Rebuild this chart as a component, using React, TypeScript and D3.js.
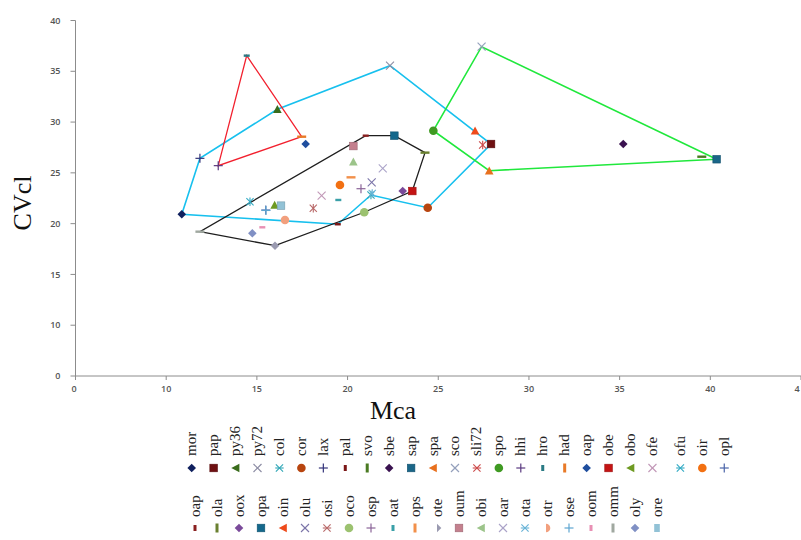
import React from "react";
import * as d3 from "d3";

// ---- legend rows (species ids; "oap2" is the second "oap" entry) ----
const ROW1 = ["mor","pap","py36","py72","col","cor","lax","pal","svo","sbe","sap","spa","sco","sli72","spo","hhi","hro","had","oap","obe","obo","ofe","ofu","oir","opl"];
const ROW2 = ["oap2","ola","oox","opa","oin","olu","osi","oco","osp","oat","ops","ote","oum","obi","oar","ota","otr","ose","oom","omm","oly","ore"];

const LABEL: Record<string, string> = { oap2: "oap" };

// ---- data values: Mca (x) and CVcl (y) ----
const MCA: Record<string, number> = {
  mor: 10.86, pap: 27.91, py36: 16.13, py72: 22.34, col: 21.29, cor: 24.42, lax: 11.86, pal: 19.46,
  svo: 39.53, sbe: 35.2, sap: 40.35, spa: 27.81, sco: 27.39, sli72: 27.45, spo: 24.73,
  hhi: 12.87, hro: 14.44, had: 17.47,
  oap: 17.69, obe: 23.57, obo: 15.98, ofe: 18.57, ofu: 14.62, oir: 19.58, opl: 15.49,
  oap2: 21.0, ola: 24.27, oox: 23.04, opa: 22.58, oin: 27.03, olu: 21.33, osi: 18.11, oco: 20.92,
  osp: 20.74, oat: 19.49, ops: 20.19, ote: 16.0, oum: 20.32, obi: 20.32, oar: 21.94, ota: 21.36,
  otr: 16.55, ose: 15.5, oom: 15.3, omm: 11.86, oly: 14.75, ore: 16.33,
};
const CVCL: Record<string, number> = {
  mor: 20.92, pap: 27.84, py36: 31.26, py72: 35.55, col: 22.82, cor: 21.57, lax: 26.43, pal: 19.94,
  svo: 26.59, sbe: 27.84, sap: 26.34, spa: 25.21, sco: 37.42, sli72: 27.74, spo: 29.15,
  hhi: 25.71, hro: 36.54, had: 28.56,
  oap: 27.84, obe: 23.21, obo: 21.84, ofe: 22.75, ofu: 22.16, oir: 23.8, opl: 21.34,
  oap2: 28.66, ola: 26.99, oox: 23.21, opa: 28.66, oin: 29.15, olu: 24.07, osi: 21.51, oco: 21.12,
  osp: 23.44, oat: 22.33, ops: 24.56, ote: 17.83, oum: 27.64, obi: 26.1, oar: 25.45, ota: 22.98,
  otr: 20.36, ose: 21.3, oom: 19.64, omm: 19.21, oly: 19.05, ore: 21.77,
};

// ---- marker shapes and colours ----
const SHAPE: Record<string, string> = {
  mor: "diamond", pap: "square", py36: "triangle", py72: "x", col: "star", cor: "circle", lax: "plus", pal: "short",
  svo: "long", sbe: "diamond", sap: "square", spa: "triangle", sco: "x", sli72: "star", spo: "circle",
  hhi: "plus", hro: "short", had: "long", oap: "diamond", obe: "square", obo: "triangle", ofe: "x",
  ofu: "star", oir: "circle", opl: "plus", oap2: "short", ola: "long", oox: "diamond", opa: "square",
  oin: "triangle", olu: "x", osi: "star", oco: "circle", osp: "plus", oat: "short", ops: "long",
  ote: "diamond", oum: "square", obi: "triangle", oar: "x", ota: "star", otr: "circle", ose: "plus",
  oom: "short", omm: "long", oly: "diamond", ore: "square",
};
const COLOR: Record<string, string> = {
  mor: "#10205e", pap: "#6e1012", py36: "#3a6c1c", py72: "#8a8aa2", col: "#2fa6b6", cor: "#b8450f",
  lax: "#34347a", pal: "#7a1616", svo: "#4a7a22", sbe: "#3a1250", sap: "#1a6688", spa: "#e8701e",
  sco: "#94a0bc", sli72: "#cc4a4a", spo: "#3f9a22", hhi: "#5a3a80", hro: "#2a7a84", had: "#e87a28",
  oap: "#1f4e9e", obe: "#c41414", obo: "#6e9a22", ofe: "#c096b6", ofu: "#30aac4", oir: "#f27012",
  opl: "#4a64a8", oap2: "#8a2020", ola: "#6a8030", oox: "#7a4a9a", opa: "#14688c", oin: "#ee4a1a",
  olu: "#7a74a8", osi: "#b86868", oco: "#9cc270", osp: "#8a6498", oat: "#3aa0a8", ops: "#f2904a",
  ote: "#9a9ab0", oum: "#c4808e", obi: "#9cc48a", oar: "#aaa2c8", ota: "#66b2d6", otr: "#f2a07e",
  ose: "#5ea6d0", oom: "#e890b4", omm: "#a0a8a0", oly: "#8090c4", ore: "#92c2d6",
};

// ---- groups joined by outlines ----
const CYAN_GROUP = ["mor","lax","py36","py72","pap","cor","col","pal"];
const RED_GROUP = ["hro","had","hhi"];
const GREEN_GROUP = ["spo","sco","sap","spa"];
const BLACK_GROUP = ["omm","ote","oco","obe","ola","opa","oap2"];

// ---- axes ----
const X_TICKS = [5, 10, 15, 20, 25, 30, 35, 40, 45];
const X_TICK_LABELS = ["0", "10", "15", "20", "25", "30", "35", "40", "4"];
const Y_TICKS = [5, 10, 15, 20, 25, 30, 35, 40];
const Y_TICK_LABELS = ["0", "10", "15", "20", "25", "30", "35", "40"];

function Marker({ id, legend }: { id: string; legend?: boolean }) {
  const c = COLOR[id];
  const s = SHAPE[id];
  const r = 4.3;
  switch (s) {
    case "diamond":
      if (legend && id === "ote") return <path d={`M0,${-r} L${r},0 L0,${r} Z`} fill={c} />;
      return <path d={`M0,${-r} L${r},0 L0,${r} L${-r},0 Z`} fill={c} />;
    case "square":
      if (legend && id === "ore") return <rect x={-2.8} y={-4} width={5.6} height={8} fill={c} />;
      return <rect x={-3.8} y={-3.8} width={7.6} height={7.6} fill={c} stroke={d3.color(c)!.darker(0.6).toString()} strokeWidth={0.6} />;
    case "triangle":
      return legend
        ? <path d={`M${-r},0 L${r - 0.5},${-r} L${r - 0.5},${r} Z`} fill={c} />
        : <path d={`M0,${-r} L${r},${r - 0.6} L${-r},${r - 0.6} Z`} fill={c} />;
    case "x":
      return (
        <g stroke={c} strokeWidth={1.1}>
          <line x1={-4} y1={-4} x2={4} y2={4} />
          <line x1={-4} y1={4} x2={4} y2={-4} />
        </g>
      );
    case "star":
      return (
        <g stroke={c} strokeWidth={1.1}>
          <line x1={-3.6} y1={-3.6} x2={3.6} y2={3.6} />
          <line x1={-3.6} y1={3.6} x2={3.6} y2={-3.6} />
          {legend ? <line x1={-4.2} y1={0} x2={4.2} y2={0} /> : <line x1={0} y1={-4.2} x2={0} y2={4.2} />}
        </g>
      );
    case "circle":
      if (legend && id === "otr") return <path d={`M-1,${-r} A${r},${r} 0 0 1 -1,${r} Z`} fill={c} />;
      return <circle r={r} fill={c} />;
    case "plus":
      return (
        <g stroke={c} strokeWidth={1.2}>
          <line x1={-4.5} y1={0} x2={4.5} y2={0} />
          <line x1={0} y1={-4.5} x2={0} y2={4.5} />
        </g>
      );
    case "short":
      return legend
        ? <rect x={-1.5} y={-3} width={3} height={6} fill={c} />
        : <rect x={-3} y={-1.2} width={6} height={2.4} fill={c} />;
    case "long":
      return legend
        ? <rect x={-1.5} y={-4.5} width={3} height={9} fill={c} />
        : <rect x={-4.5} y={-1.2} width={9} height={2.4} fill={c} />;
    default:
      return null;
  }
}

export default function App() {
  const W = 801, H = 540;
  const x = d3.scaleLinear().domain([5, 45]).range([75.5, 801]);
  const y = d3.scaleLinear().domain([5, 40]).range([376, 20.5]);
  const outline = d3
    .line<string>()
    .x((id) => x(MCA[id]))
    .y((id) => y(CVCL[id]))
    .curve(d3.curveLinearClosed);

  const allIds = [...ROW1, ...ROW2];
  const tickFont = { fontFamily: "'Open Sans', 'DejaVu Sans', sans-serif", fontSize: 9, fill: "#555", fontWeight: 600 } as const;
  const serif = "'Liberation Serif', 'DejaVu Serif', serif";

  const row1X = (i: number) => 191.7 + i * 21.94 + (i >= 22 ? 6 : 0);
  const row2X = (i: number) => 195 + i * 22.0;

  return (
    <svg width={W} height={H} style={{ position: "absolute", left: 0, top: 0, background: "#fff" }}>
      <rect x={0} y={0} width={W} height={H} fill="#fff" />
      {/* axes */}
      <g stroke="#8c8c8c" strokeWidth={1}>
        <line x1={x(5)} y1={y(40)} x2={x(5)} y2={y(5)} />
        <line x1={x(5)} y1={y(5)} x2={W} y2={y(5)} />
        {Y_TICKS.map((t) => (
          <line key={"yt" + t} x1={x(5) - 5} x2={x(5)} y1={y(t)} y2={y(t)} />
        ))}
        {X_TICKS.map((t) => (
          <line key={"xt" + t} x1={x(t)} x2={x(t)} y1={y(5)} y2={y(5) + 4} />
        ))}
      </g>
      {Y_TICKS.map((t, i) => (
        <text key={"yl" + t} x={x(5) - 15} y={y(t)} dy="0.35em" textAnchor="end" {...tickFont}>
          {Y_TICK_LABELS[i]}
        </text>
      ))}
      {X_TICKS.map((t, i) => (
        <text
          key={"xl" + t}
          x={x(t) - (i === 0 ? 1.5 : i === X_TICKS.length - 1 ? 4 : 0)}
          y={y(5) + 13}
          dy="0.35em"
          textAnchor="middle"
          {...tickFont}
        >
          {X_TICK_LABELS[i]}
        </text>
      ))}
      <text x={393} y={419} textAnchor="middle" fontFamily={serif} fontSize={26} fill="#111">Mca</text>
      <text transform="translate(31,203) rotate(-90)" textAnchor="middle" fontFamily={serif} fontSize={26} fill="#111">CVcl</text>

      {/* group outlines */}
      <path d={outline(CYAN_GROUP) || ""} fill="none" stroke="#17c0ee" strokeWidth={1.6} />
      <path d={outline(RED_GROUP) || ""} fill="none" stroke="#f2202e" strokeWidth={1.3} />
      <path d={outline(GREEN_GROUP) || ""} fill="none" stroke="#20e83c" strokeWidth={1.6} />
      <path d={outline(BLACK_GROUP) || ""} fill="none" stroke="#1e1e1e" strokeWidth={1.3} />

      {/* points */}
      {allIds.map((id) => (
        <g key={"p" + id} transform={`translate(${x(MCA[id])},${y(CVCL[id])})`}>
          <Marker id={id} />
        </g>
      ))}

      {/* legend */}
      {ROW1.map((id, i) => (
        <g key={"l1" + id}>
          <text transform={`translate(${row1X(i) + 4.5},456) rotate(-90)`} fontFamily={serif} fontSize={15} fill="#222">
            {LABEL[id] ?? id}
          </text>
          <g transform={`translate(${row1X(i)},468)`}>
            <Marker id={id} legend />
          </g>
        </g>
      ))}
      {ROW2.map((id, i) => (
        <g key={"l2" + id}>
          <text transform={`translate(${row2X(i) + 4.5},517) rotate(-90)`} fontFamily={serif} fontSize={15} fill="#222">
            {LABEL[id] ?? id}
          </text>
          <g transform={`translate(${row2X(i)},528)`}>
            <Marker id={id} legend />
          </g>
        </g>
      ))}
    </svg>
  );
}
